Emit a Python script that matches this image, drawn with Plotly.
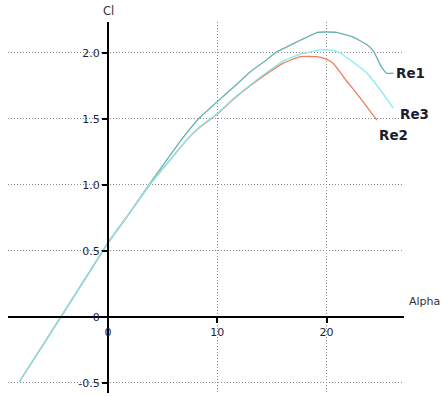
import plotly.graph_objects as go

# Lift coefficient polars (angle of attack in degrees vs Cl) for three Reynolds numbers
alpha_re1 = [-8.1, -6.0, -4.0, -2.0, 0.0, 2.0, 4.0, 6.0, 6.7, 8.4, 9.2, 10.0, 11.5, 13.0,
             14.5, 15.3, 16.5, 17.6, 19.2, 20.9, 21.8, 22.4, 23.7, 24.3, 25.0, 25.5, 26.1]
cl_re1 = [-0.49, -0.22, 0.04, 0.30, 0.56, 0.79, 1.03, 1.26, 1.34, 1.51, 1.57, 1.63, 1.74, 1.855,
          1.945, 2.0, 2.05, 2.095, 2.155, 2.155, 2.135, 2.12, 2.06, 2.01, 1.895, 1.845, 1.845]

alpha_re2 = [-8.1, -6.0, -4.0, -2.0, 0.0, 2.0, 4.0, 6.0, 7.2, 8.4, 10.0, 11.5, 13.0, 14.5,
             16.0, 17.6, 19.1, 20.0, 20.6, 21.8, 23.1, 24.6]
cl_re2 = [-0.49, -0.22, 0.04, 0.30, 0.56, 0.79, 1.02, 1.22, 1.34, 1.435, 1.536, 1.65, 1.75, 1.84,
          1.92, 1.97, 1.97, 1.95, 1.92, 1.79, 1.655, 1.49]

alpha_re3 = [-8.1, -6.0, -4.0, -2.0, 0.0, 2.0, 4.0, 6.0, 7.2, 8.4, 10.0, 11.5, 13.0, 14.5,
             16.0, 17.6, 18.2, 19.2, 20.5, 21.2, 22.4, 23.7, 24.9, 26.1]
cl_re3 = [-0.49, -0.22, 0.04, 0.30, 0.56, 0.79, 1.02, 1.22, 1.34, 1.44, 1.54, 1.655, 1.755, 1.85,
          1.935, 1.99, 2.0, 2.02, 2.02, 2.0, 1.93, 1.845, 1.72, 1.58]

series_names = ["Re1", "Re2", "Re3"]
series_colors = ["#66b2ae", "#f47c58", "#84eaf4"]

x_tickvals = [0, 10, 20]
x_ticktext = ["0", "10", "20"]
y_tickvals = [-0.5, 0, 0.5, 1.0, 1.5, 2.0]
y_ticktext = ["-0.5", "0", "0.5", "1.0", "1.5", "2.0"]

x_range = [-9.15, 27.08]
y_range = [-0.577, 2.233]

fig = go.Figure()
series = [(alpha_re1, cl_re1), (alpha_re2, cl_re2), (alpha_re3, cl_re3)]
for (xs, ys), name, color in zip(series, series_names, series_colors):
    fig.add_trace(go.Scatter(x=xs, y=ys, mode="lines", name=name,
                             line=dict(color=color, width=1.3, shape="spline", smoothing=0.4),
                             showlegend=False))

# End-of-curve labels
label_offsets = {"Re1": (1, 0), "Re2": (0, -15), "Re3": (5, -6)}
for (xs, ys), name in zip(series, series_names):
    dx, dy = label_offsets[name]
    fig.add_annotation(x=xs[-1], y=ys[-1], text=f"<b>{name}</b>", showarrow=False,
                       xanchor="left", yanchor="middle", xshift=dx, yshift=dy,
                       font=dict(family="DejaVu Sans", size=13.5, color="#1c1c2c"))

# Axis titles placed at the ends of the crossing axes
fig.add_annotation(x=0, xref="x", y=1, yref="paper", text="Cl", showarrow=False,
                   xanchor="center", yanchor="bottom", yshift=2,
                   font=dict(family="DejaVu Sans", size=11.5, color="#333333"))
fig.add_annotation(x=1, xref="paper", y=0, yref="y", text="Alpha", showarrow=False,
                   xanchor="left", yanchor="middle", xshift=3, yshift=15,
                   font=dict(family="DejaVu Sans", size=11, color="#333333"))

# Axes cross at the origin
x_pos = (0 - y_range[0]) / (y_range[1] - y_range[0])
y_pos = (0 - x_range[0]) / (x_range[1] - x_range[0])

tick_font = dict(family="DejaVu Sans", size=11, color="#1e1e40")
grid_style = dict(showgrid=True, gridcolor="#8c8c8c", gridwidth=1, griddash="1px,2px",
                  zeroline=False, showline=True, linecolor="black", linewidth=2,
                  ticks="outside", ticklen=5, tickwidth=2, tickcolor="black",
                  tickfont=tick_font)

fig.update_xaxes(range=x_range, tickmode="array", tickvals=x_tickvals, ticktext=x_ticktext,
                 anchor="free", position=x_pos, **grid_style)
fig.update_yaxes(range=y_range, tickmode="array", tickvals=y_tickvals, ticktext=y_ticktext,
                 anchor="free", position=y_pos, **grid_style)

fig.update_layout(width=442, height=396, margin=dict(l=8, r=38, t=22, b=3),
                  plot_bgcolor="white", paper_bgcolor="white")

fig.write_html("out.html")
